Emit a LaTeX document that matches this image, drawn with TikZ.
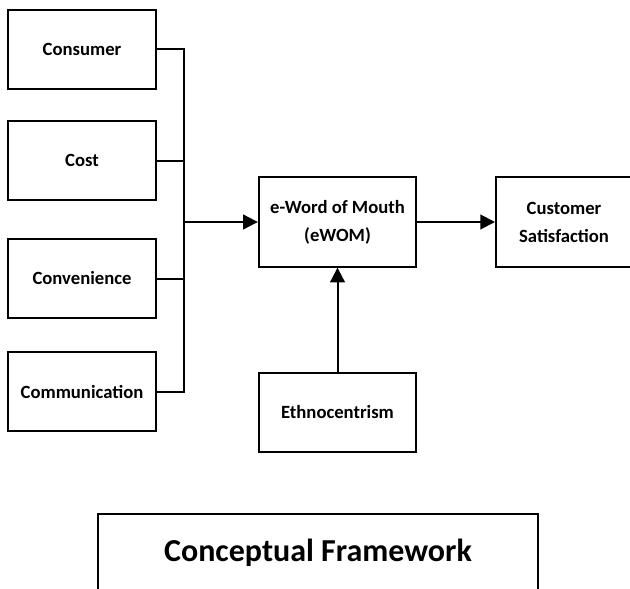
\documentclass[tikz,border=0pt]{standalone}
\usepackage{fontspec}
\setmainfont{Carlito}
\usepackage{tikz}
\usetikzlibrary{arrows.meta}
\tikzset{
	factor/.style={draw, line width=1.5pt, rectangle, minimum width=111pt, minimum height=59pt, align=center, font=\bfseries\fontsize{14}{21}\selectfont},
	link/.style={line width=1.5pt},
	flow/.style={line width=1.5pt, -{Triangle[length=11pt,width=11pt]}}
}

\begin{document}
\begin{tikzpicture}[x=0.75pt, y=-0.75pt]
	\clip (0,0) rectangle (630,588);
	\fill[white] (0,0) rectangle (630,588);
	\node[factor] (consumer) at (82,49.5) {Consumer};
	\node[factor] (cost) at (82,160.5) {Cost};
	\node[factor] (convenience) at (82,278.5) {Convenience};
	\node[factor] (communication) at (82,391.5) {Communication};
	\node[factor, minimum width=118pt, minimum height=67pt] (ewom) at (337.5,222) {e-Word of Mouth\\(eWOM)};
	\node[factor, minimum width=102pt, minimum height=67pt] (satisfaction) at (564,222) {Customer\\Satisfaction};
	\node[factor, minimum width=118pt] (ethno) at (337.5,412.5) {Ethnocentrism};
	\node[factor, minimum width=330pt, minimum height=58.5pt, font=\bfseries\fontsize{24}{28}\selectfont] (framework) at (318,553) {Conceptual Framework};
	\coordinate (join) at (184,222);

	\draw[link] (consumer.east) -| (join);
	\draw[link] (cost.east) -| (join);
	\draw[link] (convenience.east) -| (join);
	\draw[link] (communication.east) -| (join);
	\draw[flow] (join) -- (ewom);
	\draw[flow] (ewom) -- (satisfaction);
	\draw[flow] (ethno) -- (ewom);
\end{tikzpicture}
\end{document}
